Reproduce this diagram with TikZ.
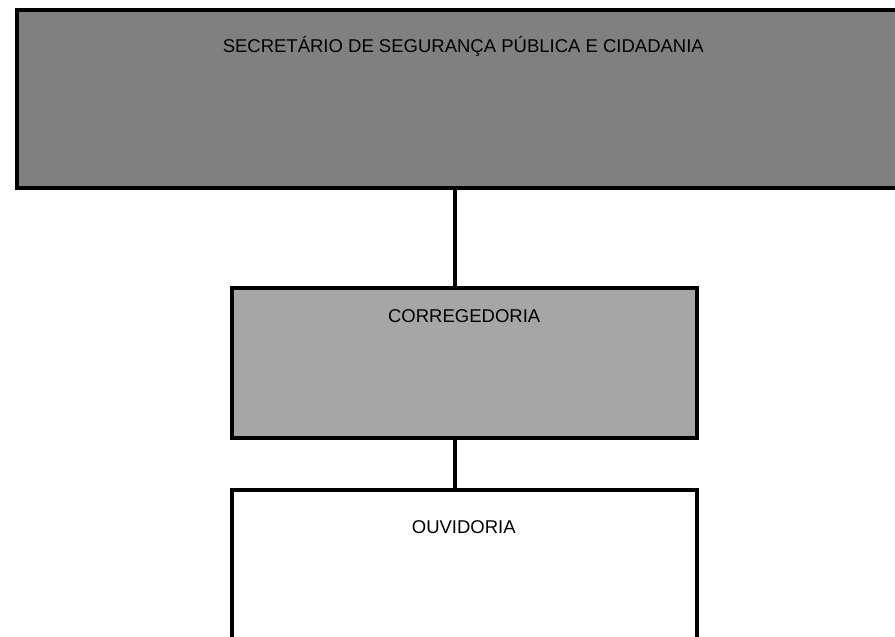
\documentclass[tikz,border=0pt]{standalone}
\usepackage{fontspec}
\setmainfont{Liberation Sans}
\begin{document}
\begin{tikzpicture}[x=1pt,y=-1pt,
  box/.style={draw=black,line width=4pt,rectangle,inner sep=0pt,outer sep=0pt,anchor=north west},
  lbl/.style={anchor=base,inner sep=0pt,font=\fontsize{18.5}{22}\selectfont,text=black},
  link/.style={draw=black,line width=4pt}]
\useasboundingbox (0,0) rectangle (895,637);
\clip (0,0) rectangle (895,637);
\fill[white] (0,0) rectangle (895,637);
\node[box,fill={rgb,255:red,128;green,128;blue,128},minimum width=892.6pt,minimum height=177.5pt] (top) at (17,10) {};
\node[box,fill={rgb,255:red,166;green,166;blue,166},minimum width=465pt,minimum height=150pt] (mid) at (232,287.6) {};
\node[box,fill=white,minimum width=465pt,minimum height=160pt] (bot) at (232,489.5) {};
\node[lbl] (ttop) at (463.3,52.7) {SECRETÁRIO DE SEGURANÇA PÚBLICA E CIDADANIA};
\node[lbl] (tmid) at (464.2,322.7) {CORREGEDORIA};
\node[lbl] (tbot) at (463.8,533) {OUVIDORIA};
\coordinate (cx) at (455,0);
\draw[link] (top.south -| cx) -- (mid.north -| cx);
\draw[link] (mid.south -| cx) -- (bot.north -| cx);
\end{tikzpicture}
\end{document}
